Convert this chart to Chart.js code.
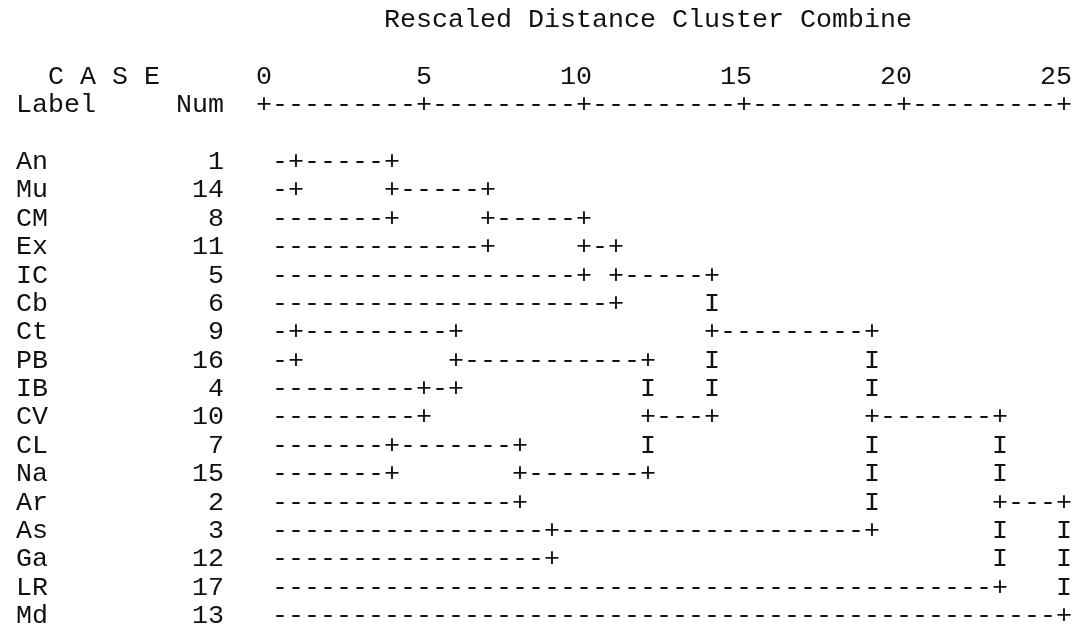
<!DOCTYPE html>
<html><head><meta charset="utf-8">
<script src="https://cdn.jsdelivr.net/npm/chart.js@4/dist/chart.umd.min.js"></script>
<style>html,body{margin:0;padding:0;background:#fff;overflow:hidden}#wrap{width:1077px;height:633px;position:relative}</style>
</head><body><div id="wrap"><canvas id="c" width="1077" height="633"></canvas></div>
<script>
// ---- data ----
const caseLabels = ['An','Mu','CM','Ex','IC','Cb','Ct','PB','IB','CV','CL','Na','Ar','As','Ga','LR','Md'];
const caseNums   = [1,14,8,11,5,6,9,16,4,10,7,15,2,3,12,17,13];
// agglomeration schedule (clusters named by a member), rescaled distance 0..25
const mergeFirst    = ['An','Ct','An','CL','IB','Ct','An','CL','As','An','An','Ct','An','An','An','An'];
const mergeSecond   = ['Mu','PB','CM','Na','CV','IB','Ex','Ar','Ga','IC','Cb','CL','Ct','As','LR','Md'];
const mergeDistance = [1,1,4,4,5,6,7,8,9,10,11,12,14,19,23,25];
const tickValues = [0,5,10,15,20,25];
const titleText = 'Rescaled Distance Cluster Combine';
const caseHeader = 'C A S E';
const labelHeader = 'Label';
const numHeader = 'Num';

// ---- build text-dendrogram glyphs from the schedule ----
const STEP = 0.5; // one character = half a distance unit
const glyphs = {}; // key "row|x" -> char
function put(row, x, ch){ glyphs[row+'|'+x] = {row, x, ch}; }
const clusterOf = {};
const clusters = caseLabels.map((l,i)=>{ const c={row:i,start:STEP,members:[l]}; clusterOf[l]=c; return c; });
for (let k=0;k<mergeDistance.length;k++){
  const A = clusterOf[mergeFirst[k]], B = clusterOf[mergeSecond[k]];
  const d = mergeDistance[k];
  [A,B].forEach(c=>{
    for (let x=c.start; x<d-1e-9; x+=STEP) put(c.row, x, '-');
    put(c.row, d, '+');
  });
  const top = Math.min(A.row,B.row), bot = Math.max(A.row,B.row);
  const newRow = Math.floor((top+bot)/2);
  const last = k===mergeDistance.length-1;
  for (let r=top+1;r<bot;r++) put(r, d, (r===newRow && !last) ? '+' : 'I');
  const nc = {row:newRow, start:d+STEP, members:A.members.concat(B.members)};
  nc.members.forEach(m=>clusterOf[m]=nc);
}
const glyphTypes = ['-','+','I'];
const datasets = glyphTypes.map(g=>({
  label:g, glyph:g,
  data:Object.values(glyphs).filter(o=>o.ch===g).map(o=>({x:o.x,y:o.row})),
  pointRadius:0, pointHoverRadius:0, showLine:false
}));

const FONT = '26.67px "Liberation Mono", "Courier New", monospace';
const INK = '#111';

const textPlugin = {
  id:'textDendro',
  afterDatasetsDraw(chart){
    const ctx = chart.ctx, xs = chart.scales.x, ys = chart.scales.y;
    const charW = xs.getPixelForValue(STEP) - xs.getPixelForValue(0);
    const colX = c => xs.getPixelForValue((c-15)*STEP); // centre of text column c
    ctx.save();
    ctx.font = FONT; ctx.fillStyle = INK; ctx.textBaseline = 'middle';
    // dendrogram glyphs
    chart.data.datasets.forEach((ds,i)=>{
      const meta = chart.getDatasetMeta(i);
      ctx.textAlign = 'center';
      meta.data.forEach(el=>ctx.fillText(ds.glyph, el.x, el.y));
    });
    // title
    ctx.textAlign = 'left';
    ctx.fillText(titleText, colX(23)-charW/2, ys.getPixelForValue(-5));
    // header
    ctx.fillText(caseHeader, colX(2)-charW/2, ys.getPixelForValue(-3));
    ctx.fillText(labelHeader, colX(0)-charW/2, ys.getPixelForValue(-2));
    ctx.textAlign = 'right';
    ctx.fillText(numHeader, colX(12)+charW/2, ys.getPixelForValue(-2));
    // tick labels and axis line
    tickValues.forEach(v=>ctx.fillText(String(v), xs.getPixelForValue(v)+charW/2, ys.getPixelForValue(-3)));
    ctx.textAlign = 'center';
    const tmax = tickValues[tickValues.length-1];
    for (let v=0; v<=tmax+1e-9; v+=STEP){
      const isTick = tickValues.some(t=>Math.abs(t-v)<1e-9);
      ctx.fillText(isTick?'+':'-', xs.getPixelForValue(v), ys.getPixelForValue(-2));
    }
    // case labels and numbers
    caseLabels.forEach((l,i)=>{
      const y = ys.getPixelForValue(i);
      ctx.textAlign='left'; ctx.fillText(l, colX(0)-charW/2, y);
      ctx.textAlign='right'; ctx.fillText(String(caseNums[i]), colX(12)+charW/2, y);
    });
    ctx.restore();
  }
};

new Chart(document.getElementById('c'), {
  type:'scatter',
  data:{datasets},
  options:{
    responsive:false, animation:false, events:[],
    layout:{padding:{left:264,right:13,top:162,bottom:17}},
    plugins:{legend:{display:false},tooltip:{enabled:false}},
    scales:{
      x:{type:'linear',min:0,max:25,display:false},
      y:{type:'linear',min:0,max:caseLabels.length-1,reverse:true,display:false}
    }
  },
  plugins:[textPlugin]
});
</script></body></html>
